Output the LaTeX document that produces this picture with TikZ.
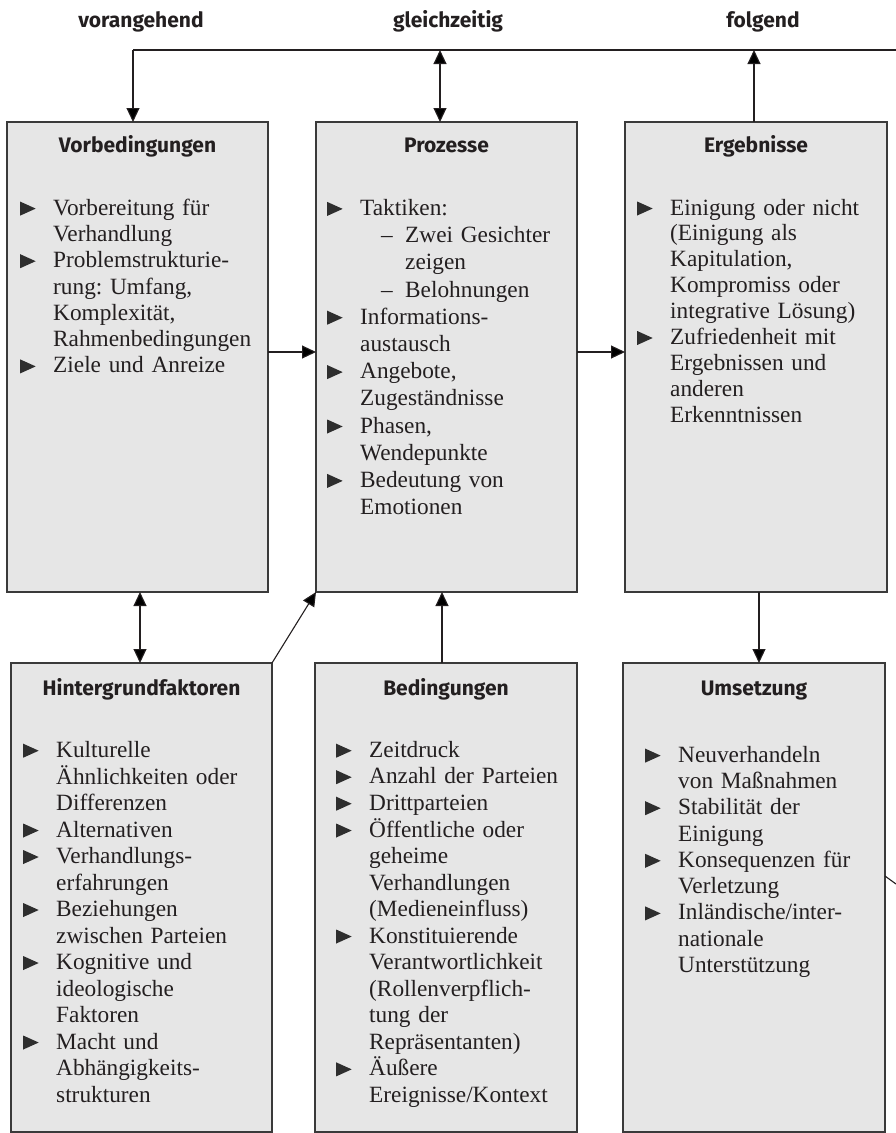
\documentclass[tikz,border=0pt]{standalone}
\usepackage{fontspec}
\setmainfont{Liberation Serif}
\newfontfamily\headfont{Fira Sans}
\usetikzlibrary{arrows.meta,calc}
\definecolor{boxfill}{HTML}{E6E6E6}
\definecolor{boxline}{HTML}{3A3A3A}
\definecolor{ink}{HTML}{231F20}
\definecolor{bulletc}{HTML}{2E2E2E}

% list bullet: filled triangle pointing right
\newcommand\tri{\tikz[baseline=0pt]\fill[bulletc] (0pt,-0.5pt)--(0pt,13.5pt)--(15.5pt,6.5pt)--cycle;}
% one bulleted entry; lines of the entry are separated by \\
\newcommand\entry[1]{\par\lineskip=0pt\relax\parskip=0pt\relax
  \noindent\makebox[33pt][l]{\tri}\begin{tabular}[t]{@{}l@{}}#1\end{tabular}\par}
% dash sub-entry inside an entry
\newcommand\sub[1]{\hspace*{21pt}\makebox[24pt][l]{--}#1}
\newcommand\subcont[1]{\hspace*{45pt}#1}
\newcommand\listfont[1]{\fontsize{23.3}{#1}\selectfont\frenchspacing}

\begin{document}
\begin{tikzpicture}[x=1pt,y=-1pt,
  box/.style={draw=boxline, fill=boxfill, line width=1.2pt, inner sep=0pt, outer sep=0pt, anchor=north west},
  title/.style={font=\headfont\bfseries\fontsize{21}{24}\selectfont, text=ink, anchor=base, inner sep=0pt},
  items/.style={anchor=north west, inner sep=0pt, text width=262pt, align=left, text=ink, font=\listfont{#1}},
  items/.default=26.3,
  conn/.style={draw=ink, line width=1.1pt},
  arr/.style={conn, -{Triangle[length=14pt,width=13pt]}},
  darr/.style={conn, {Triangle[length=14pt,width=13pt]}-{Triangle[length=14pt,width=13pt]}},
]
\useasboundingbox (0,0) rectangle (896,1133);

% column headings
\node[title] (h1) at (141,27) {vorangehend};
\node[title] (h2) at (448,27) {gleichzeitig};
\node[title] (h3) at (763,27) {folgend};

% boxes
\node[box, minimum width=261pt, minimum height=470pt] (vb) at (7,122) {};
\node[box, minimum width=261pt, minimum height=470pt] (pz) at (316,122) {};
\node[box, minimum width=262pt, minimum height=470pt] (eg) at (625,122) {};
\node[box, minimum width=261pt, minimum height=469pt] (hf) at (11,663) {};
\node[box, minimum width=262pt, minimum height=469pt] (bd) at (315,663) {};
\node[box, minimum width=262pt, minimum height=469pt] (us) at (623,663) {};

% box titles
\node[title] (vb-t) at ($(vb.north)+(0,30)$) {Vorbedingungen};
\node[title] (pz-t) at ($(pz.north)+(0,30)$) {Prozesse};
\node[title] (eg-t) at ($(eg.north)+(0,30)$) {Ergebnisse};
\node[title] (hf-t) at ($(hf.north)+(0,32)$) {Hintergrundfaktoren};
\node[title] (bd-t) at ($(bd.north)+(0,32)$) {Bedingungen};
\node[title] (us-t) at ($(us.north)+(0,32)$) {Umsetzung};

% box contents
\node[items] (vb-l) at (20,188.6) {%
  \entry{Vorbereitung für\\Verhandlung}
  \entry{Problemstrukturie-\\rung: Umfang,\\Komplexität,\\Rahmenbedingungen}
  \entry{Ziele und Anreize}};

\node[items=27.2] (pz-l) at (327,188) {%
  \entry{Taktiken:\\\sub{Zwei Gesichter}\\\subcont{zeigen}\\\sub{Belohnungen}}
  \entry{Informations-\\austausch}
  \entry{Angebote,\\Zugeständnisse}
  \entry{Phasen,\\Wendepunkte}
  \entry{Bedeutung von\\Emotionen}};

\node[items=25.9] (eg-l) at (637,188.9) {%
  \entry{Einigung oder nicht\\(Einigung als\\Kapitulation,\\Kompromiss oder\\integrative Lösung)}
  \entry{Zufriedenheit mit\\Ergebnissen und\\anderen\\Erkenntnissen}};

\node[items=26.5] (hf-l) at (23,730.5) {%
  \entry{Kulturelle\\Ähnlichkeiten oder\\Differenzen}
  \entry{Alternativen}
  \entry{Verhandlungs-\\erfahrungen}
  \entry{Beziehungen\\zwischen Parteien}
  \entry{Kognitive und\\ideologische\\Faktoren}
  \entry{Macht und\\Abhängigkeits-\\strukturen}};

\node[items=26.5] (bd-l) at (336,730.5) {%
  \entry{Zeitdruck}
  \entry{Anzahl der Parteien}
  \entry{Drittparteien}
  \entry{Öffentliche oder\\geheime\\Verhandlungen\\(Medieneinfluss)}
  \entry{Konstituierende\\Verantwortlichkeit\\(Rollenverpflich-\\tung der\\Repräsentanten)}
  \entry{Äußere\\Ereignisse/Kontext}};

\node[items] (us-l) at (645,735.6) {%
  \entry{Neuverhandeln\\von Maßnahmen}
  \entry{Stabilität der\\Einigung}
  \entry{Konsequenzen für\\Verletzung}
  \entry{Inländische/inter-\\nationale\\Unterstützung}};

% connectors
\coordinate (tl) at (133,50);
\coordinate (te) at (896,50);
\coordinate (tm) at (440,50);
\coordinate (tr) at (754,50);
\coordinate (mid) at (0,352);
\coordinate (xa) at (140,0);
\coordinate (xb) at (442,0);
\coordinate (xc) at (759,0);
\coordinate (ry) at (0,876);
\coordinate (re) at (896,884);

\draw[conn] (te) -- (tl);
\draw[arr] (tl) -- (tl |- vb.north);
\draw[darr] (tm) -- (tm |- pz.north);
\draw[arr] (tr |- eg.north) -- (tr);
\draw[arr] (vb.east |- mid) -- (pz.west |- mid);
\draw[arr] (pz.east |- mid) -- (eg.west |- mid);
\draw[darr] (xa |- vb.south) -- (xa |- hf.north);
\draw[arr] (hf.north east) -- (pz.south west);
\draw[arr] (xb |- bd.north) -- (xb |- pz.south);
\draw[arr] (xc |- eg.south) -- (xc |- us.north);
\draw[conn] (us.east |- ry) -- (re);
\end{tikzpicture}
\end{document}
